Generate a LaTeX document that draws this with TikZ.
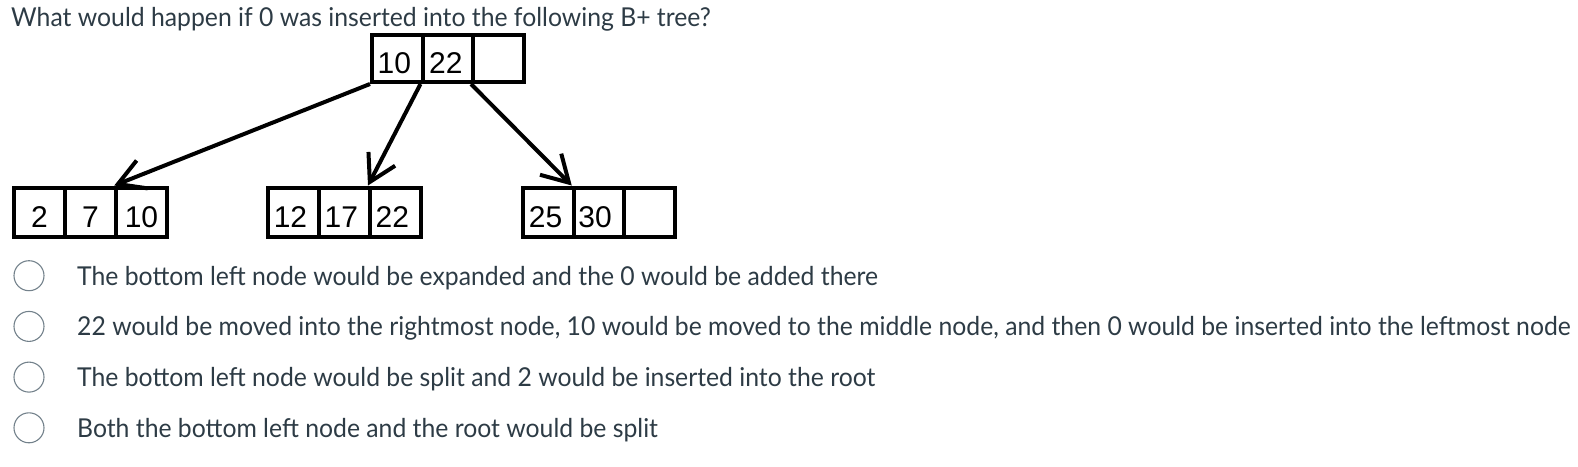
\documentclass[tikz,border=0pt]{standalone}
\usepackage{fontspec}
\setmainfont{Lato}
\newfontfamily\digitfont{Liberation Sans}
\usetikzlibrary{arrows.meta}
\definecolor{txt}{HTML}{2D3B45}
\definecolor{ring}{HTML}{73818B}
\newcommand{\narrow}[1]{\scalebox{0.952}[1]{#1}}
\tikzset{
  cellbox/.style={draw=black, line width=4pt, inner sep=0pt, minimum width=50.5pt,
    minimum height=49pt, text height=30pt, text depth=0pt, font=\digitfont\fontsize{30}{30}\selectfont},
  rootcell/.style={cellbox, minimum height=47pt},
  two/.style={xshift=-3pt},
  link/.style={line width=4pt, -{Straight Barb[length=26pt,width=30pt,line width=4pt]}},
  qtext/.style={anchor=base west, inner sep=0pt, text=txt, font=\fontsize{26}{26}\selectfont},
  radio/.style={circle, draw=ring, line width=1.1pt, minimum size=30pt, inner sep=0pt},
}
\begin{document}
\begin{tikzpicture}[x=1pt,y=-1pt]
\useasboundingbox (0,0) rectangle (1578,466);
\node[qtext] (title) at (11,26) {\narrow{What would happen if 0 was inserted into the following B+ tree?}};
% root
\node[rootcell] (r1) at (397.25,58.5) {\hspace*{-6pt}10};
\node[rootcell] (r2) at (447.75,58.5) {\hspace*{-4pt}22};
\node[rootcell] (r3) at (498.25,58.5) {};
% left leaf
\node[cellbox] (l1) at (39.5,212) {2};
\node[cellbox] (l2) at (90.5,212) {7};
\node[cellbox] (l3) at (141.5,212) {10};
% middle leaf
\node[cellbox] (m1) at (293.5,212) {\hspace*{-6pt}12};
\node[cellbox] (m2) at (344.25,212) {\hspace*{-6pt}17};
\node[cellbox] (m3) at (395.25,212) {\hspace*{-6pt}22};
% right leaf
\node[cellbox] (q1) at (548.5,212) {\hspace*{-6pt}25};
\node[cellbox] (q2) at (599,212) {\hspace*{-8pt}30};
\node[cellbox] (q3) at (649.5,212) {};
\draw[link] (r1.south west) -- (l3.north west);
\draw[link] (r2.south west) -- (m3.north west);
\draw[link] (r3.south west) -- (q2.north west);
% options
\node[radio] (c1) at (29,275.7) {};
\node[radio] (c2) at (29,326.4) {};
\node[radio] (c3) at (29,377.1) {};
\node[radio] (c4) at (29,427.8) {};
\node[qtext] (o1) at (77,285) {\narrow{The bottom left node would be expanded and the 0 would be added there}};
\node[qtext] (o2) at (77,335.7) {\narrow{22 would be moved into the rightmost node, 10 would be moved to the middle node, and then 0 would be inserted into the leftmost node}};
\node[qtext] (o3) at (77,386.4) {\narrow{The bottom left node would be split and 2 would be inserted into the root}};
\node[qtext] (o4) at (77,437.1) {\narrow{Both the bottom left node and the root would be split}};
\end{tikzpicture}
\end{document}
